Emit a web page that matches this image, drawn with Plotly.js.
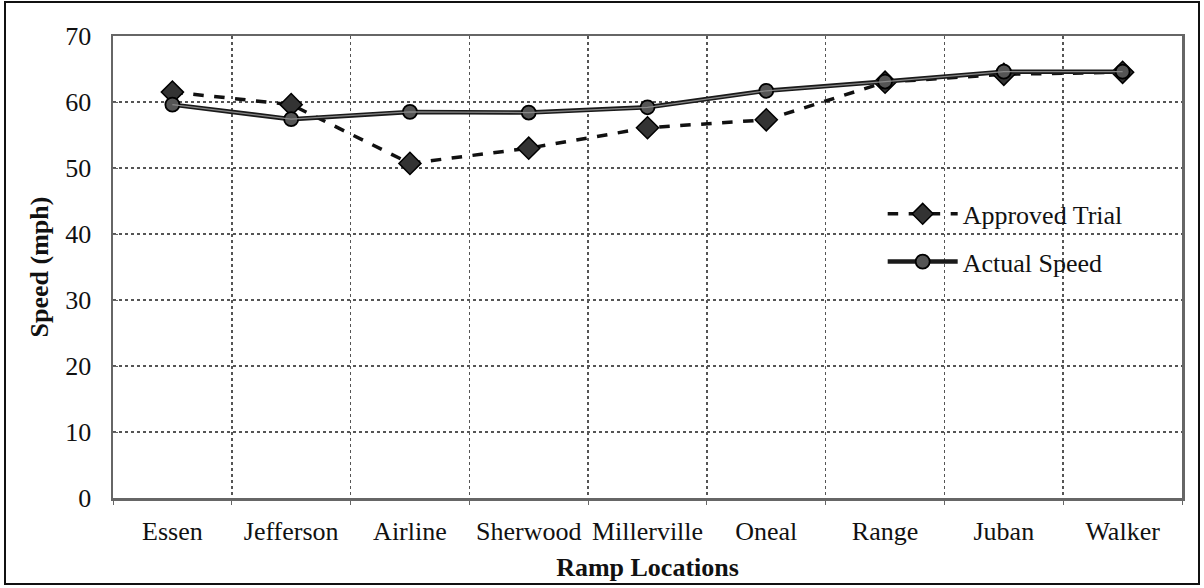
<!DOCTYPE html>
<html>
<head>
<meta charset="utf-8">
<script src="https://cdn.plot.ly/plotly-3.0.1.min.js"></script>
<style>
html,body{margin:0;padding:0;background:#fff;}
#wrap{position:relative;width:1204px;height:588px;}
#chart{width:1204px;height:588px;}
#frame{position:absolute;left:4px;top:1px;width:1196px;height:584px;border:2px solid #111;box-sizing:border-box;pointer-events:none;}
</style>
</head>
<body>
<div id="wrap"><div id="chart"></div><div id="frame"></div></div>
<script>
const categories = ["Essen","Jefferson","Airline","Sherwood","Millerville","Oneal","Range","Juban","Walker"];
const approvedTrial = [61.5, 59.6, 50.7, 53.0, 56.1, 57.3, 63.0, 64.2, 64.5];
const actualSpeed = [59.6, 57.4, 58.5, 58.4, 59.2, 61.7, 63.1, 64.6, 64.6];
const yTicks = [0,10,20,30,40,50,60,70];

const FAM = "Liberation Serif, Times New Roman, serif";
const FS = 26;

const traces = [
  {
    x: categories, y: approvedTrial, name: "Approved Trial", type: "scatter", mode: "lines+markers",
    legendgroup: "approved",
    line: {color: "#111", width: 3.5, dash: "dash"},
    marker: {symbol: "diamond", size: 17, color: "#333", line: {color: "#000", width: 1.5}}
  },
  {
    x: categories, y: actualSpeed, name: "Actual Speed", type: "scatter", mode: "lines+markers",
    legendgroup: "actual",
    line: {color: "#1a1a1a", width: 4.5},
    marker: {symbol: "circle", size: 14, color: "#555", line: {color: "#000", width: 1.8}}
  },
  {
    x: categories, y: actualSpeed, name: "Actual Speed core", type: "scatter", mode: "lines",
    legendgroup: "actual", showlegend: false, hoverinfo: "skip",
    line: {color: "#888", width: 1.2}
  }
];

const layout = {
  width: 1204, height: 588,
  margin: {l: 113, r: 22, t: 36, b: 90},
  paper_bgcolor: "#fff", plot_bgcolor: "#fff",
  font: {family: FAM, size: FS, color: "#111"},
  showlegend: true,
  legend: {x: 0.72, y: 0.563, xanchor: "left", yanchor: "middle", bgcolor: "rgba(0,0,0,0)",
           font: {family: FAM, size: FS, color: "#111"}, tracegroupgap: 11, itemwidth: 70},
  xaxis: {
    type: "category", tickson: "boundaries", tickangle: 0,
    showgrid: true, gridcolor: "#555", griddash: "dot", gridwidth: 1.5,
    showline: true, linecolor: "#666", linewidth: 2.5, mirror: true,
    ticks: "outside", ticklen: 4, tickcolor: "#666",
    tickfont: {family: FAM, size: FS, color: "#111"},
    ticklabelstandoff: 8,
    title: {text: "<b>Ramp Locations</b>", font: {family: FAM, size: FS, color: "#111"}, standoff: 13},
    range: [-0.5, 8.5]
  },
  yaxis: {
    range: [0, 70], tickvals: yTicks,
    showgrid: true, gridcolor: "#555", griddash: "dot", gridwidth: 1.5,
    showline: true, linecolor: "#666", linewidth: 2.5, mirror: true,
    zeroline: false,
    ticks: "inside", ticklen: 5, tickcolor: "#666",
    tickfont: {family: FAM, size: FS, color: "#111"},
    ticklabelstandoff: 14,
    title: {text: "<b>Speed (mph)</b>", font: {family: FAM, size: FS, color: "#111"}, standoff: 9}
  }
};

Plotly.newPlot("chart", traces, layout, {displayModeBar: false, staticPlot: true});
</script>
</body>
</html>
